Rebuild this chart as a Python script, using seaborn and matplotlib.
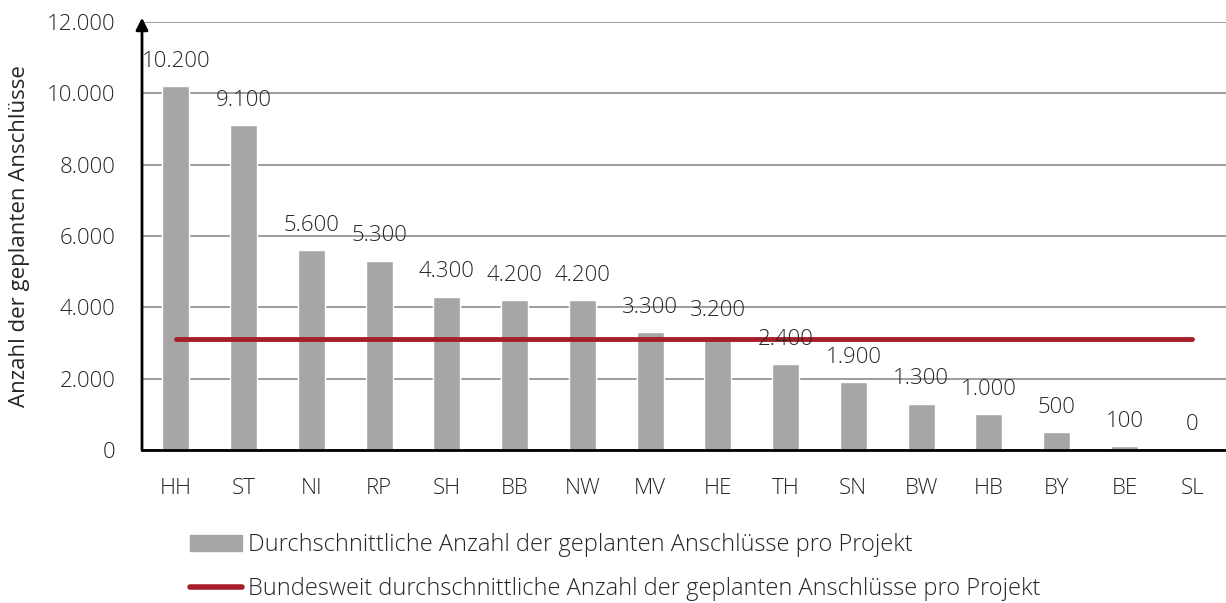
import numpy as np
import pandas as pd
import matplotlib.pyplot as plt
import seaborn as sns
from matplotlib.patches import Patch
from matplotlib.lines import Line2D

# Data
laender = ["HH", "ST", "NI", "RP", "SH", "BB", "NW", "MV", "HE", "TH", "SN", "BW", "HB", "BY", "BE", "SL"]
anschluesse = [10200, 9100, 5600, 5300, 4300, 4200, 4200, 3300, 3200, 2400, 1900, 1300, 1000, 500, 100, 0]
bundesweit = 3100
y_ticks = [0, 2000, 4000, 6000, 8000, 10000, 12000]

sns.set_style("white")
plt.rcParams['font.family'] = ['Open Sans', 'DejaVu Sans']
plt.rcParams['font.weight'] = 'light'
text_color = "#262626"
fs = 16

df = pd.DataFrame({"land": laender, "wert": anschluesse})

fig = plt.figure(figsize=(12.26, 6.03), dpi=100)
ax = fig.add_axes([142 / 1226, 1 - 450 / 603, (1226 - 142) / 1226, 428 / 603])

sns.barplot(data=df, x="land", y="wert", color="#a6a6a6", width=0.4, saturation=1, ax=ax, zorder=2)

# national average line from first to last category
ax.plot([0, len(laender) - 1], [bundesweit, bundesweit], color="#a51e2a", lw=3.5,
        solid_capstyle="round", zorder=3)

# value labels
for i, v in enumerate(anschluesse):
    lbl = f"{v:,}".replace(",", ".")
    ax.annotate(lbl, (i, v), xytext=(0, 10.5), textcoords="offset points",
                ha="center", va="bottom", fontsize=fs, color=text_color)

ax.set_ylim(0, 12000)
ax.set_xlim(-0.5, len(laender) - 0.5)
ax.set_yticks(y_ticks)
ax.set_yticklabels([f"{t:,}".replace(",", ".") for t in y_ticks], fontsize=fs, color=text_color)
ax.tick_params(axis="x", labelsize=fs, colors=text_color, length=0, pad=20)
ax.tick_params(axis="y", length=0, pad=19)
ax.yaxis.grid(True, color="#8c8c8c", lw=1.2, zorder=0)
ax.set_axisbelow(True)
ax.set_xlabel("")
ax.set_ylabel("Anzahl der geplanten Anschlüsse", fontsize=fs, color=text_color, labelpad=12)

for s in ["top", "right"]:
    ax.spines[s].set_visible(False)
ax.spines["bottom"].set_color("black")
ax.spines["bottom"].set_linewidth(2)
ax.spines["left"].set_visible(False)

# y axis with arrow
ax.annotate("", xy=(0, 1.01), xytext=(0, 0), xycoords="axes fraction",
            arrowprops=dict(arrowstyle="-|>", color="black", lw=2, mutation_scale=18,
                            shrinkA=0, shrinkB=0), annotation_clip=False)

handles = [Patch(color="#a6a6a6", label="Durchschnittliche Anzahl der geplanten Anschlüsse pro Projekt"),
           Line2D([0], [0], color="#a51e2a", lw=4, solid_capstyle="round",
                  label="Bundesweit durchschnittliche Anzahl der geplanten Anschlüsse pro Projekt")]
leg = fig.legend(handles=handles, loc="upper left", bbox_to_anchor=(169 / 1226, 1 - 512 / 603),
                 frameon=False, fontsize=17, handlelength=2.2, handletextpad=0.25,
                 labelspacing=0.85, labelcolor=text_color)

fig.savefig("out.png", dpi=100)
